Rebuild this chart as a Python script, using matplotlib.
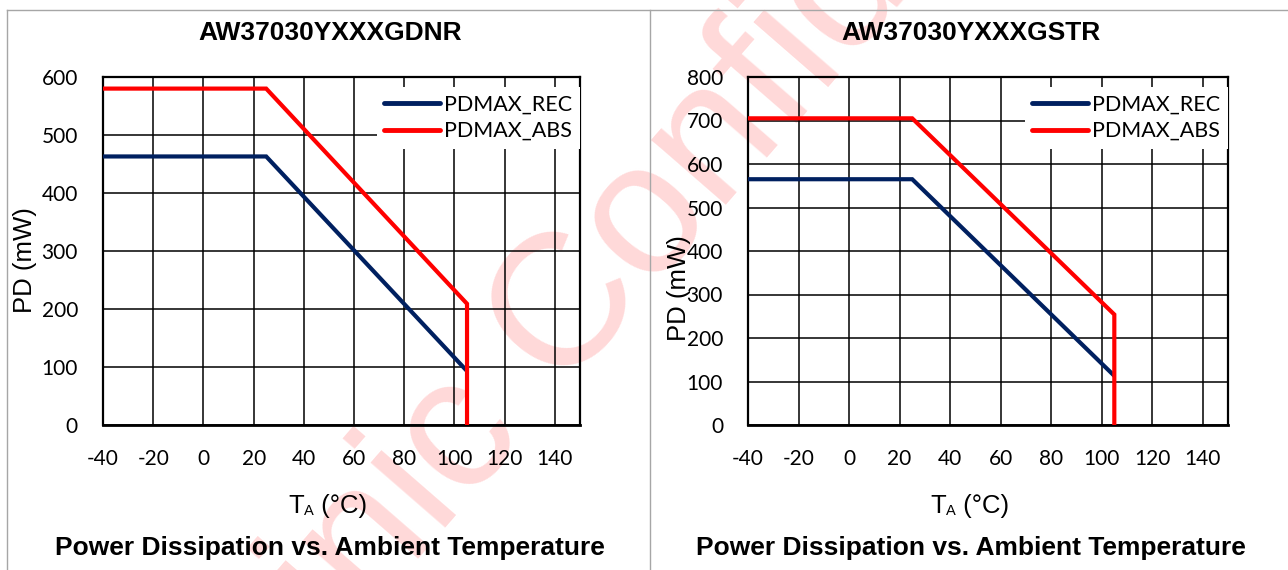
import matplotlib
matplotlib.use("Agg")
import matplotlib.pyplot as plt
from matplotlib.lines import Line2D

plt.rcParams["axes.unicode_minus"] = False

# ---- data ----
gdnr_temp = [-40, 25, 105, 105]
gdnr_rec = [463, 463, 93, 93]
gdnr_abs = [580, 580, 209, 0]
gstr_temp = [-40, 25, 105, 105]
gstr_rec = [565, 565, 113, 113]
gstr_abs = [705, 705, 254, 0]
titles = ["AW37030YXXXGDNR", "AW37030YXXXGSTR"]
series_names = ["PDMAX_REC", "PDMAX_ABS"]
x_ticks = [-40, -20, 0, 20, 40, 60, 80, 100, 120, 140]
y_max = [600, 800]
caption = "Power Dissipation vs. Ambient Temperature"

W, H = 1288, 570
fig = plt.figure(figsize=(W / 100, H / 100), dpi=100)
fig.patch.set_facecolor("white")

def fx(px):
    return px / W

def fy(py):
    return 1 - py / H

# watermark (behind everything)
fig.text(fx(655), fy(212), "Awinic Confidential", rotation=49, rotation_mode="anchor",
         ha="center", va="center", fontsize=135, color="#ffd9d9",
         family="Liberation Sans", zorder=-5)

# panel frame lines
for xs, ys in [([7, W], [10, 10]), ([7, 7], [10, H]), ([650, 650], [10, H])]:
    fig.add_artist(Line2D([fx(v) for v in xs], [fy(v) for v in ys], color="#a6a6a6", lw=1.0))

REC_C = "#002060"
ABS_C = "#ff0000"
TICK_FONT = "Lato"

panels = [
    dict(l=103, r=580, t=77, b=425, temp=gdnr_temp, rec=gdnr_rec, abs=gdnr_abs, ymax=y_max[0],
         title=titles[0], cx=330, ylab=(25, 260), xlab_left=288),
    dict(l=748, r=1228, t=77, b=425, temp=gstr_temp, rec=gstr_rec, abs=gstr_abs, ymax=y_max[1],
         title=titles[1], cx=971, ylab=(679, 288), xlab_left=930),
]

for p in panels:
    ax = fig.add_axes([fx(p["l"]), fy(p["b"]), fx(p["r"] - p["l"]), (p["b"] - p["t"]) / H])
    ax.patch.set_alpha(0)
    ax.plot(p["temp"][:3], p["rec"][:3], color=REC_C, lw=3.0, solid_capstyle="butt",
            solid_joinstyle="miter", label=series_names[0], zorder=3)
    ax.plot(p["temp"], p["abs"], color=ABS_C, lw=3.0, solid_capstyle="butt",
            solid_joinstyle="miter", label=series_names[1], zorder=4)
    ax.set_xlim(-40, 150)
    ax.set_ylim(0, p["ymax"])
    ax.set_xticks(x_ticks)
    ax.set_yticks(list(range(0, p["ymax"] + 1, 100)))
    ax.grid(True, color="black", lw=1.1, zorder=1)
    ax.set_axisbelow(True)
    for s in ax.spines.values():
        s.set_color("black")
        s.set_linewidth(1.6)
    ax.spines["bottom"].set_linewidth(2.0)
    ax.tick_params(length=0)
    ax.tick_params(axis="x", pad=17)
    ax.tick_params(axis="y", pad=18)
    for lab in ax.get_xticklabels() + ax.get_yticklabels():
        lab.set_fontfamily(TICK_FONT)
        lab.set_fontsize(15)
        lab.set_color("black")
    leg = ax.legend(loc="upper right", bbox_to_anchor=(1.0, 0.971), borderaxespad=0,
                    frameon=True, fancybox=False, framealpha=1, facecolor="white",
                    edgecolor="none", prop={"family": TICK_FONT, "size": 15.5},
                    handlelength=2.6, handletextpad=0.2, labelspacing=0.3, borderpad=0.35)
    leg.set_zorder(5)
    for h in leg.get_lines():
        h.set_linewidth(3.5)
        h.set_solid_capstyle("round")

    fig.text(fx(p["cx"]), fy(33), p["title"], ha="center", va="center", fontsize=19,
             fontweight="bold", family="Liberation Sans")
    fig.text(fx(p["cx"]), fy(548), caption, ha="center", va="center", fontsize=19,
             fontweight="bold", family="Liberation Sans")
    fig.text(fx(p["ylab"][0]), fy(p["ylab"][1]), "PD (mW)", rotation=90, ha="center",
             va="center", fontsize=18.5, family="Liberation Sans")
    # x label: T with small A subscript, then (°C)
    t1 = fig.text(fx(p["xlab_left"]), fy(513), "T", ha="left", va="baseline",
                  fontsize=18.5, family="Liberation Sans")
    a1 = ax.annotate("A", xy=(1, 0), xycoords=t1, ha="left", va="bottom", fontsize=10.5,
                     family="Liberation Sans", annotation_clip=False)
    ax.annotate(" (°C)", xy=(1, 0), xycoords=a1, ha="left", va="bottom", fontsize=18.5,
                family="Liberation Sans", annotation_clip=False)

fig.savefig("out.png", dpi=100)
